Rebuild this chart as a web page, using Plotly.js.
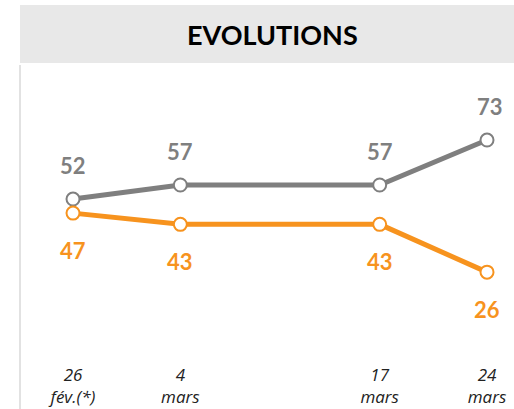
<!DOCTYPE html>
<html><head><meta charset="utf-8">
<script src="https://cdn.plot.ly/plotly-3.0.1.min.js"></script>
<style>html,body{margin:0;padding:0;background:#fff}#c{width:514px;height:409px}</style>
</head><body><div id="c"></div>
<script>
const dayOffsets = [0, 7, 20, 27];
const tickLabels = ["26<br>fév.(*)", "4<br>mars", "17<br>mars", "24<br>mars"];
const seriesGray = [52, 57, 57, 73];
const seriesOrange = [47, 43, 43, 26];
const titleText = "EVOLUTIONS";

const gray = "#7f7f7f", orange = "#f7931e";
const font = "Lato, 'Open Sans', sans-serif";

function lineTrace(vals, color) {
  return {
    x: dayOffsets, y: vals, type: "scatter", mode: "lines+markers",
    line: {color: color, width: 5},
    marker: {size: 13, color: "#ffffff", line: {color: color, width: 2}},
    hoverinfo: "none", showlegend: false, cliponaxis: false
  };
}

const annotations = [];
seriesGray.forEach((v, i) => annotations.push({
  x: dayOffsets[i], y: v, text: String(v), showarrow: false,
  yshift: 34, xshift: i === 3 ? 3 : 0,
  font: {family: font, size: 22, color: gray, weight: "bold"}
}));
seriesOrange.forEach((v, i) => annotations.push({
  x: dayOffsets[i], y: v, text: String(v), showarrow: false,
  yshift: -37,
  font: {family: font, size: 22, color: orange, weight: "bold"}
}));

const layout = {
  width: 514, height: 409,
  margin: {l: 20, r: 0, t: 65, b: 59},
  paper_bgcolor: "#fff", plot_bgcolor: "#fff",
  title: {text: "<b>" + titleText + "</b>", x: 0.53, xanchor: "center",
          y: 0.914, yanchor: "middle", yref: "container",
          font: {family: font, size: 27, color: "#000"}},
  xaxis: {range: [-3.457, 28.76], showgrid: false, zeroline: false, showline: false,
          tickmode: "array", tickvals: dayOffsets, ticktext: tickLabels,
          ticks: "", ticklabelstandoff: 13,
          tickfont: {family: "'Open Sans', sans-serif", size: 17, color: "#222", style: "italic"}},
  yaxis: {range: [-1.7, 99.7], visible: false, fixedrange: true},
  shapes: [
    {type: "rect", xref: "paper", yref: "paper", x0: 0, x1: 1, y0: 1.007, y1: 1.2105,
     fillcolor: "#e8e8e8", line: {width: 0}, layer: "below"},
    {type: "line", xref: "paper", yref: "paper", x0: 0, x1: 0, y0: -0.21, y1: 1.0,
     line: {color: "#d9d9d9", width: 1.5}}
  ],
  annotations: annotations
};

Plotly.newPlot("c", [lineTrace(seriesGray, gray), lineTrace(seriesOrange, orange)], layout,
  {staticPlot: true, displayModeBar: false});
</script></body></html>
